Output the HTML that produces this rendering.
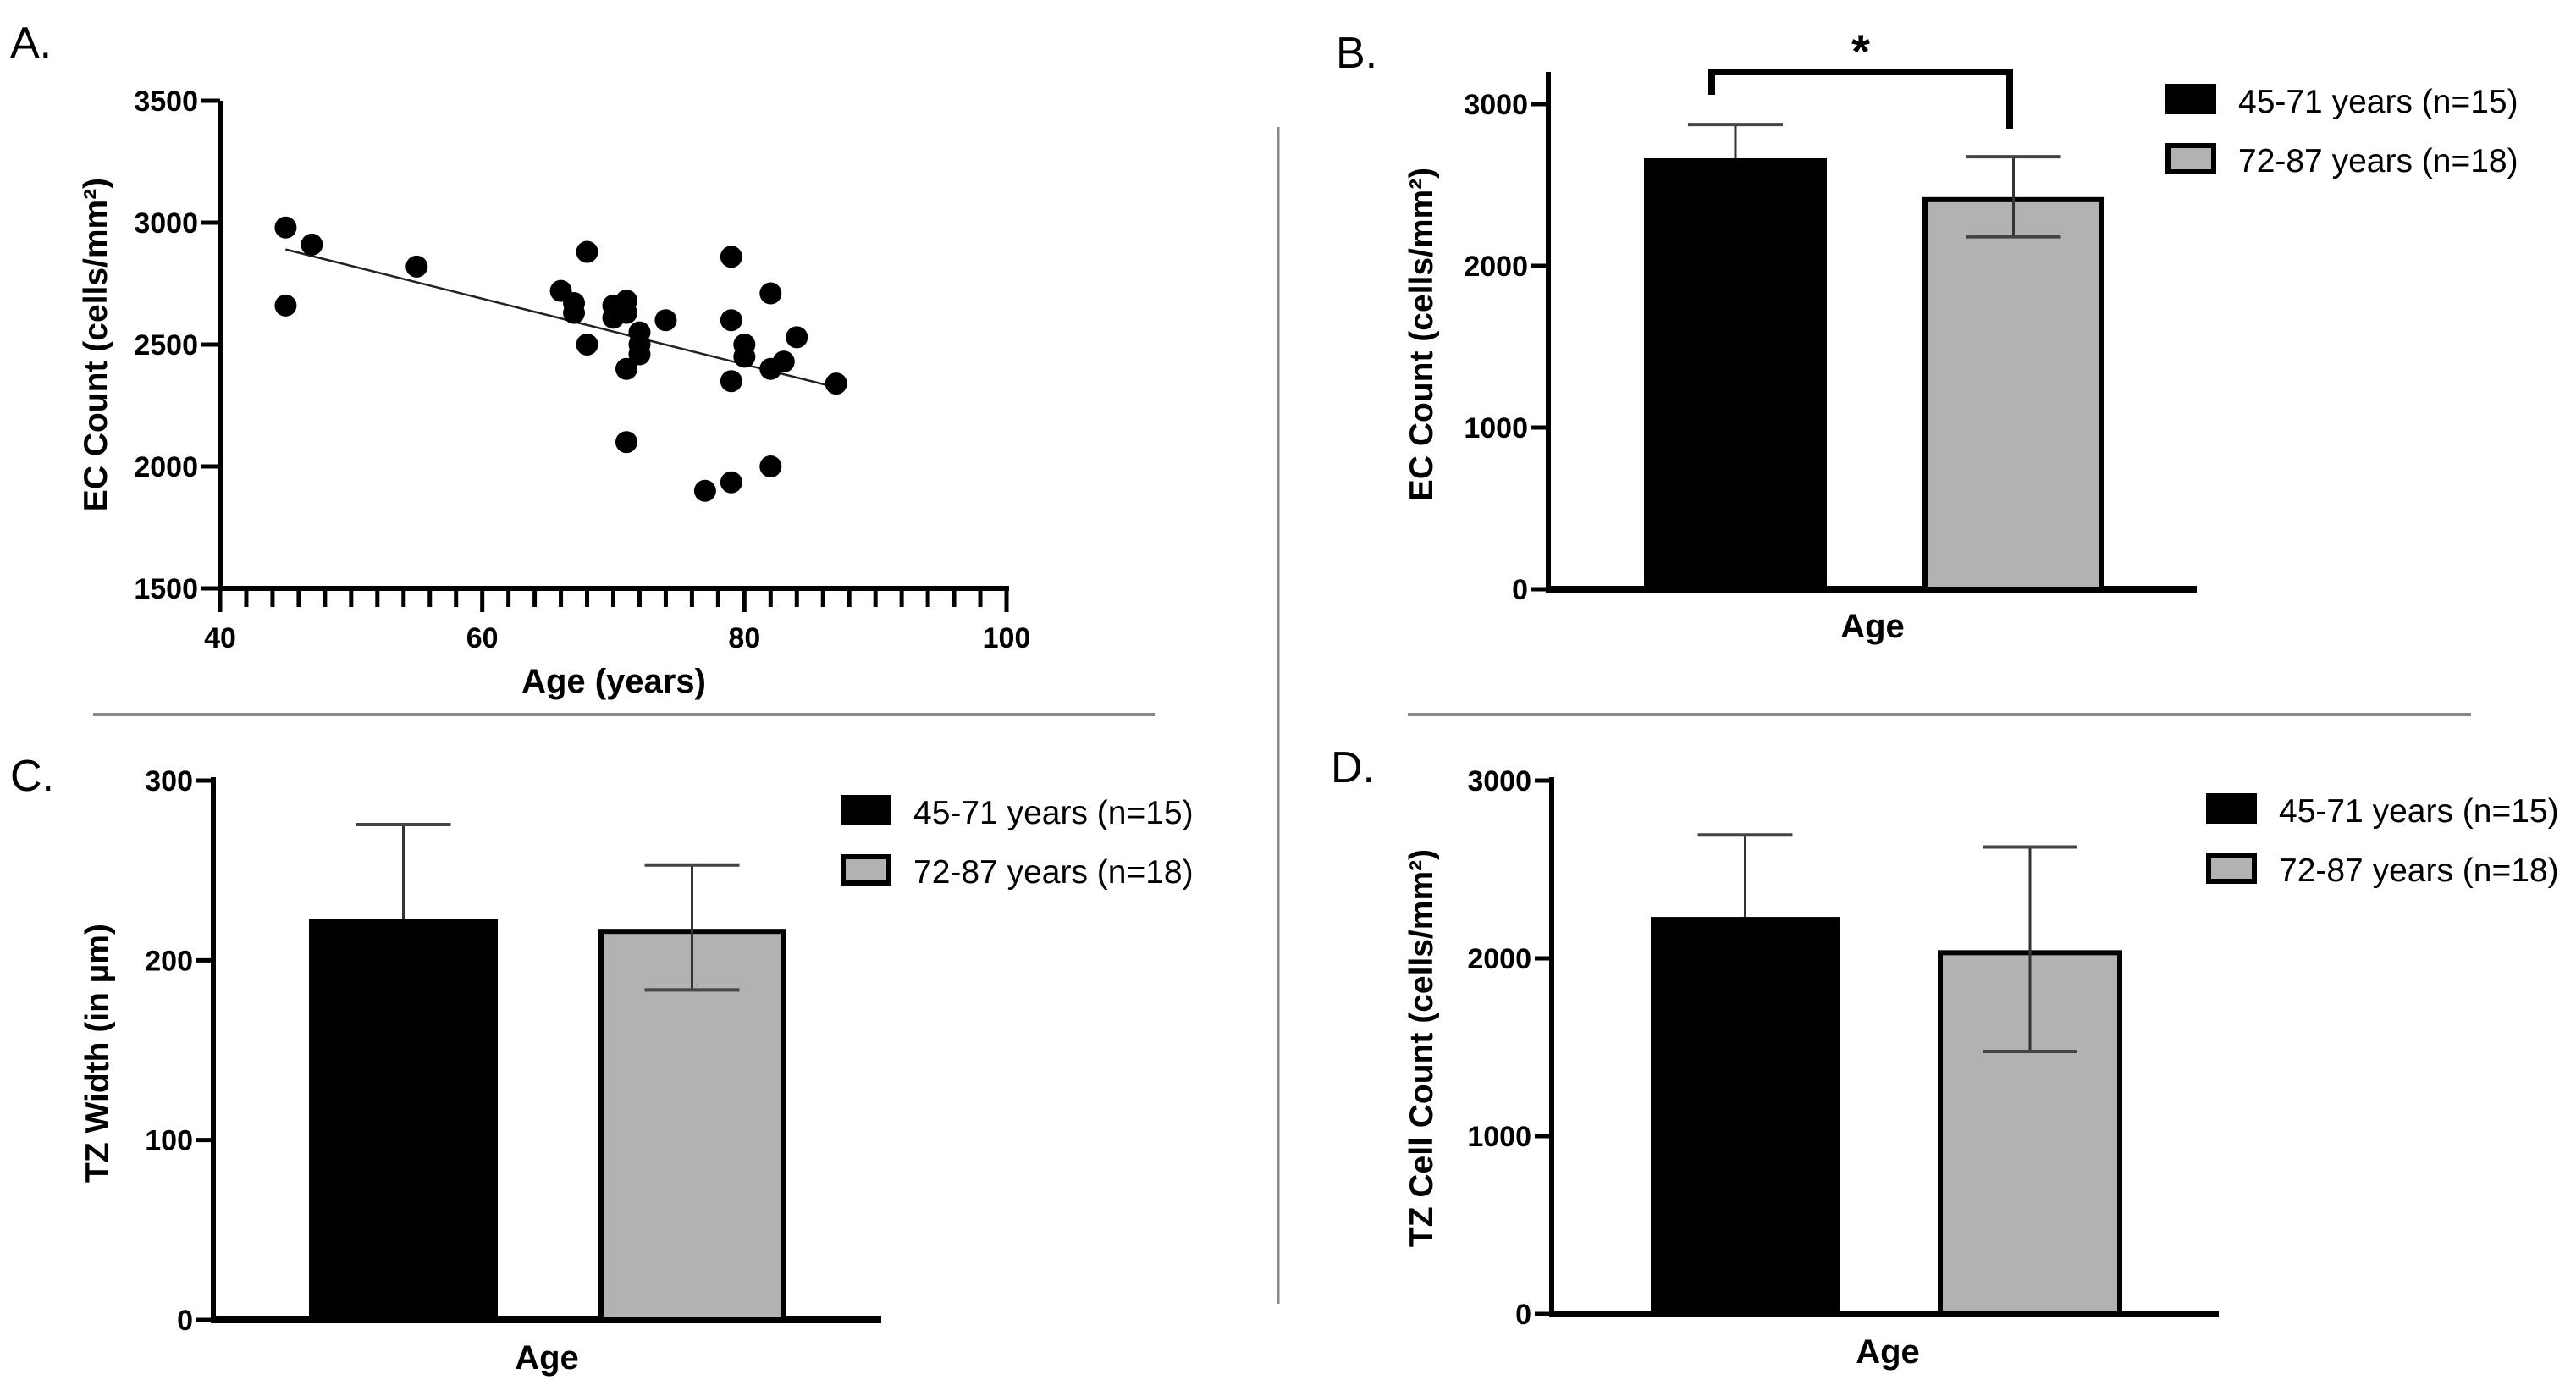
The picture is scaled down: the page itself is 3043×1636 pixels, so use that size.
<!DOCTYPE html>
<html><head><meta charset="utf-8"><style>
html,body{margin:0;padding:0;background:#fff}
svg{display:block}
text{font-family:"Liberation Sans",Arial,sans-serif}
</style></head><body>
<svg id="fig" width="3043" height="1636" viewBox="0 0 3043 1636" xmlns="http://www.w3.org/2000/svg">
<line x1="1510" y1="150" x2="1510" y2="1540" stroke="#888" stroke-width="3"/>
<line x1="110" y1="844" x2="1364" y2="844" stroke="#888" stroke-width="4"/>
<line x1="1663" y1="844" x2="2919" y2="844" stroke="#888" stroke-width="4"/>
<text x="12" y="68" font-size="52">A.</text>
<text x="1578" y="80" font-size="52">B.</text>
<text x="12" y="934" font-size="52">C.</text>
<text x="1572" y="924" font-size="52">D.</text>
<g id="pa"></g>
<g id="pb"></g>
<g id="pc"></g>
<g id="pd"></g>
</svg>
<script>
const ageValues = [45,47,45,55,68,66,67,67,68,70,70,71,71,71,71,72,72,72,74,79,79,79,79,77,80,80,82,82,82,83,84,87];
const ecValues = [2980,2910,2660,2820,2880,2720,2670,2630,2500,2660,2610,2680,2630,2400,2100,2550,2500,2460,2600,2860,2600,2350,1935,1900,2500,2450,2710,2400,2000,2430,2530,2340];
const aXTicks = [40,60,80,100];
const aYTicks = [1500,2000,2500,3000,3500];
const groupLabels = ["45-71 years (n=15)","72-87 years (n=18)"];
const bMeans = [2665,2425];
const bErrUp = [2874,2675];
const bErrLow = [2665,2180];
const bTicks = [0,1000,2000,3000];
const cMeans = [223,217.5];
const cErrUp = [275.5,253];
const cErrLow = [223,183.5];
const cTicks = [0,100,200,300];
const dMeans = [2233,2046];
const dErrUp = [2694,2626];
const dErrLow = [2233,1476];
const dTicks = [0,1000,2000,3000];

const NS="http://www.w3.org/2000/svg";
function mk(parent,tag,attrs,txt){const e=document.createElementNS(NS,tag);for(const k in attrs)e.setAttribute(k,attrs[k]);if(txt!==undefined)e.textContent=txt;parent.appendChild(e);return e;}

// Panel A
(function(){
  const g=document.getElementById('pa');
  const x0=260,x1=1189,y0=695,y1=119;
  const xs=v=>x0+(v-40)/60*(x1-x0);
  const ys=v=>y0-(v-1500)/2000*(y0-y1);
  let e=mk(g,'line',{x1:x0,y1:y1,x2:x0,y2:y0+3,stroke:'#000','stroke-width':6});
  
  
  e=mk(g,'line',{x1:x0-3,y1:y0,x2:x1+3,y2:y0,stroke:'#000','stroke-width':6});
  
  
  for(let a=40;a<=100;a+=2){
    const major=aXTicks.indexOf(a)>=0;
    e=mk(g,'line',{x1:xs(a),y1:y0,x2:xs(a),y2:y0+(major?28:22),stroke:'#000','stroke-width':5});
    
    
  }
  aXTicks.forEach(t=>{
    e=mk(g,'text',{x:xs(t),y:y0+70,'font-size':34,'font-weight':'bold','text-anchor':'middle'},String(t));
    
    
  });
  aYTicks.forEach(t=>{
    e=mk(g,'line',{x1:x0-22,y1:ys(t),x2:x0,y2:ys(t),stroke:'#000','stroke-width':5});
    
    
    e=mk(g,'text',{x:x0-26,y:ys(t)+12,'font-size':34,'font-weight':'bold','text-anchor':'end'},String(t));
    
    
  });
  const n=ageValues.length;let mx=0,my=0;
  for(let i=0;i<n;i++){mx+=ageValues[i];my+=ecValues[i];}mx/=n;my/=n;
  let sxy=0,sxx=0;for(let i=0;i<n;i++){sxy+=(ageValues[i]-mx)*(ecValues[i]-my);sxx+=(ageValues[i]-mx)**2;}
  const b=sxy/sxx,a=my-b*mx;
  const amin=Math.min(...ageValues),amax=Math.max(...ageValues);
  e=mk(g,'line',{x1:xs(amin),y1:ys(a+b*amin),x2:xs(amax),y2:ys(a+b*amax),stroke:'#222','stroke-width':2.5});
  
  
  for(let i=0;i<n;i++){
    e=mk(g,'circle',{cx:xs(ageValues[i]),cy:ys(ecValues[i]),r:13,fill:'#000'});
    
    
  }
  e=mk(g,'text',{x:0,y:0,'font-size':39,'font-weight':'bold','text-anchor':'middle',transform:'translate(126,407) rotate(-90)'},'EC Count (cells/mm²)');
  
  
  e=mk(g,'text',{x:725,y:818,'font-size':40,'font-weight':'bold','text-anchor':'middle'},'Age (years)');
  
  
})();

function barPanel(id,cfg,means,up,low,ticks){
  const g=document.getElementById(id);
  const ys=v=>cfg.y0-(v/cfg.max)*(cfg.y0-cfg.yMax);
  let e=mk(g,'line',{x1:cfg.ax,y1:cfg.top,x2:cfg.ax,y2:cfg.y0+3,stroke:'#000','stroke-width':6});
  
  
  e=mk(g,'line',{x1:cfg.ax-3,y1:cfg.y0,x2:cfg.xEnd,y2:cfg.y0,stroke:'#000','stroke-width':8});
  
  
  ticks.forEach(t=>{
    e=mk(g,'line',{x1:cfg.ax-20,y1:ys(t),x2:cfg.ax,y2:ys(t),stroke:'#000','stroke-width':5});
    
    
    e=mk(g,'text',{x:cfg.ax-24,y:ys(t)+12,'font-size':34,'font-weight':'bold','text-anchor':'end'},String(t));
    
    
  });
  const fills=['#000','#b2b2b5'];
  means.forEach((m,i)=>{
    const bx=cfg.bars[i][0],bw=cfg.bars[i][1]-cfg.bars[i][0],cx=bx+bw/2;
    if(i===0){e=mk(g,'rect',{x:bx,y:ys(m),width:bw,height:cfg.y0-ys(m),fill:'#000'});}
    else{e=mk(g,'rect',{x:bx+3,y:ys(m)+3,width:bw-6,height:cfg.y0-ys(m)-3,fill:fills[1],stroke:'#000','stroke-width':6});}
    
    
    e=mk(g,'line',{x1:cx,y1:ys(up[i]),x2:cx,y2:ys(low[i]),stroke:'#333','stroke-width':3});
    
    
    [up[i],low[i]].forEach(v=>{ if(v===m) return;
      e=mk(g,'line',{x1:cx-56,y1:ys(v),x2:cx+56,y2:ys(v),stroke:'#444','stroke-width':4});
      
      
    });
  });
  groupLabels.forEach((lab,i)=>{
    const ly=cfg.leg[1]+i*70;
    if(i===0){e=mk(g,'rect',{x:cfg.leg[0],y:ly,width:60,height:36,fill:'#000'});}
    else{e=mk(g,'rect',{x:cfg.leg[0]+3,y:ly+3,width:54,height:31,fill:fills[1],stroke:'#000','stroke-width':6});}
    
    
    e=mk(g,'text',{x:cfg.leg[0]+86,y:ly+34,'font-size':39},lab);
    
    
  });
  e=mk(g,'text',{x:0,y:0,'font-size':39,'font-weight':'bold','text-anchor':'middle',transform:'translate('+cfg.yt[0]+','+cfg.yt[1]+') rotate(-90)'},cfg.title);
  
  
  e=mk(g,'text',{x:cfg.xt[0],y:cfg.xt[1],'font-size':40,'font-weight':'bold','text-anchor':'middle'},'Age');
  
  
  return ys;
}
barPanel('pb',{ax:1829,y0:696,yMax:123,max:3000,top:85,xEnd:2595,bars:[[1942,2158],[2271,2486]],leg:[2558,99],yt:[1692,395],xt:[2212,753],title:'EC Count (cells/mm²)'},bMeans,bErrUp,bErrLow,bTicks);
barPanel('pc',{ax:252,y0:1559,yMax:922,max:300,top:918,xEnd:1041,bars:[[365,588],[707,928]],leg:[993,939],yt:[128,1244],xt:[646,1617],title:'TZ Width (in µm)'},cMeans,cErrUp,cErrLow,cTicks);
barPanel('pd',{ax:1833,y0:1552,yMax:922,max:3000,top:918,xEnd:2621,bars:[[1950,2173],[2289,2507]],leg:[2606,937],yt:[1692,1238],xt:[2230,1610],title:'TZ Cell Count (cells/mm²)'},dMeans,dErrUp,dErrLow,dTicks);
(function(){
  const g=document.getElementById('pb');
  let e=mk(g,'path',{d:'M2022,112 V85 H2374 V152',fill:'none',stroke:'#000','stroke-width':8});
  
  
  e=mk(g,'text',{x:2198,y:80,'font-size':56,'font-weight':'bold','text-anchor':'middle'},'*');
  
  
})();
</script>
</body></html>
